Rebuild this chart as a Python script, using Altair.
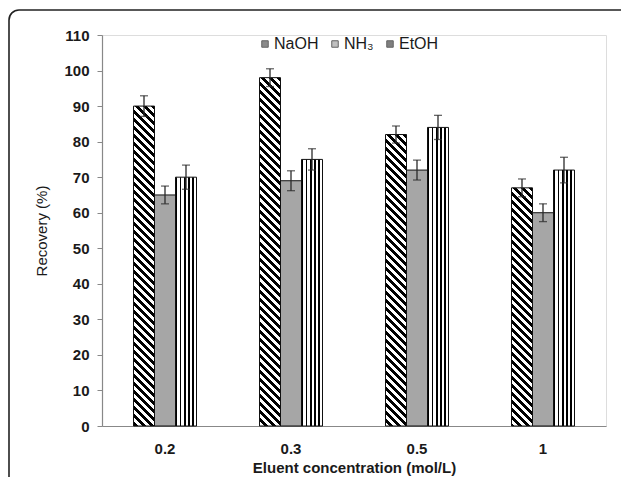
import altair as alt
import pandas as pd

conc = ["0.2", "0.3", "0.5", "1"]
solvents = ["NaOH", "NH₃", "EtOH"]
naoh = [90, 98, 82, 67]
nh3 = [65, 69, 72, 60]
etoh = [70, 75, 84, 72]
naoh_err = [2.9, 2.5, 2.4, 2.5]
nh3_err = [2.5, 2.8, 2.8, 2.5]
etoh_err = [3.4, 3.0, 3.4, 3.6]
y_ticks = [0, 10, 20, 30, 40, 50, 60, 70, 80, 90, 100, 110]

rows = []
for vals, errs, s in [(naoh, naoh_err, "NaOH"), (nh3, nh3_err, "NH₃"), (etoh, etoh_err, "EtOH")]:
    for c, v, e in zip(conc, vals, errs):
        rows.append({"conc": c, "solvent": s, "value": v, "lo": v - e, "hi": v + e})
df = pd.DataFrame(rows)

W, H = 504, 391
YMAX = 110
FONT = "Liberation Sans"
TXT = "#1a1a1a"
BAR_W = W / 4 * 0.5 / 3


def stripe_stops(total, period, black):
    stops = []
    s = 0.0
    while s < total:
        a = s / total
        b = min((s + black) / total, 1.0)
        c = min((s + period) / total, 1.0)
        stops += [alt.GradientStop(offset=a, color="#000000"),
                  alt.GradientStop(offset=b, color="#000000"),
                  alt.GradientStop(offset=b, color="#ffffff"),
                  alt.GradientStop(offset=c, color="#ffffff")]
        s += period
    return stops


def diag_gradient(value):
    h = value / YMAX * H
    w = BAR_W
    lam = (w + h) / (w * w + h * h)
    return alt.LinearGradient(
        gradient="linear",
        stops=stripe_stops(w + h, 8.0, 4.0),
        x1=1, y1=0, x2=1 - lam * w, y2=lam * h,
    )


vert_gradient = alt.LinearGradient(
    gradient="linear",
    stops=stripe_stops(BAR_W, BAR_W / 5, BAR_W / 5 * 0.4),
    x1=0, y1=0, x2=1, y2=0,
)

y_scale = alt.Scale(domain=[0, YMAX], nice=False)
y_axis = alt.Axis(values=y_ticks, tickSize=5, grid=False,
                  labelOverlap=False, labelFlush=False,
                  domainColor="#888888", tickColor="#888888", domainWidth=1.2,
                  labelFont=FONT, labelFontSize=15, labelFontWeight="bold",
                  labelColor=TXT, labelPadding=8,
                  title="Recovery (%)", titleFont=FONT, titleFontSize=15,
                  titleFontWeight="normal", titleColor=TXT, titlePadding=14)

base = alt.Chart(df).encode(
    x=alt.X("conc:N", sort=conc,
            scale=alt.Scale(domain=conc, paddingInner=0.5, paddingOuter=0.25),
            axis=alt.Axis(title="Eluent concentration (mol/L)", labelAngle=0, ticks=False,
                          tickSize=0, domainColor="#888888", domainWidth=1.2,
                          labelFont=FONT, labelFontSize=15, labelFontWeight="bold",
                          labelColor=TXT, labelPadding=15,
                          titleFont=FONT, titleFontSize=15, titleFontWeight="bold",
                          titleColor=TXT, titlePadding=4)),
    xOffset=alt.XOffset("solvent:N", sort=solvents,
                        scale=alt.Scale(domain=solvents, paddingInner=0, paddingOuter=0)),
    y=alt.Y("value:Q", scale=y_scale, axis=y_axis),
)

layers = []
for c, v in zip(conc, naoh):
    layers.append(
        base.transform_filter((alt.datum.solvent == "NaOH") & (alt.datum.conc == c))
        .mark_bar(fill=diag_gradient(v), stroke="#111111", strokeWidth=1)
    )
layers.append(
    base.transform_filter(alt.datum.solvent == "NH₃")
    .mark_bar(fill="#a6a6a6", stroke="#111111", strokeWidth=1)
)
layers.append(
    base.transform_filter(alt.datum.solvent == "EtOH")
    .mark_bar(fill=vert_gradient, stroke="#111111", strokeWidth=1)
)

rules = base.mark_rule(color="#2a2a2a", strokeWidth=1.3).encode(
    y=alt.Y("lo:Q", scale=y_scale, axis=y_axis), y2="hi:Q")
cap_lo = base.mark_tick(color="#2a2a2a", thickness=1.3, size=8).encode(
    y=alt.Y("lo:Q", scale=y_scale, axis=y_axis))
cap_hi = base.mark_tick(color="#2a2a2a", thickness=1.3, size=8).encode(
    y=alt.Y("hi:Q", scale=y_scale, axis=y_axis))

legend_layer = alt.Chart(df).transform_filter("false").mark_square(size=42).encode(
    fill=alt.Fill("solvent:N", sort=solvents,
                  scale=alt.Scale(domain=solvents, range=["#5a5a5a", "#a6a6a6", "#4a4a4a"]),
                  legend=alt.Legend(orient="none", legendX=155, legendY=1, direction="horizontal",
                                    title=None, padding=0, symbolType="square", symbolSize=42,
                                    symbolStrokeColor="#222222", symbolStrokeWidth=1,
                                    labelFont=FONT, labelFontSize=16, labelColor=TXT,
                                    labelOffset=1, columnPadding=8))
)

frame = alt.Chart(pd.DataFrame({"k": [0]})).mark_rect(
    fill="transparent", stroke="#222222", strokeWidth=1.6, cornerRadius=10
).encode(x=alt.value(-93), x2=alt.value(540), y=alt.value(-25), y2=alt.value(480))

chart = alt.layer(*layers, rules, cap_lo, cap_hi, legend_layer, frame).properties(
    width=W, height=H,
    padding={"left": 94, "top": 27, "right": 15, "bottom": 51},
    autosize=alt.AutoSizeParams(type="none"),
).configure_view(stroke=None).configure(background="white")

chart.save("out.html", embed_options={"renderer": "svg", "actions": False})
